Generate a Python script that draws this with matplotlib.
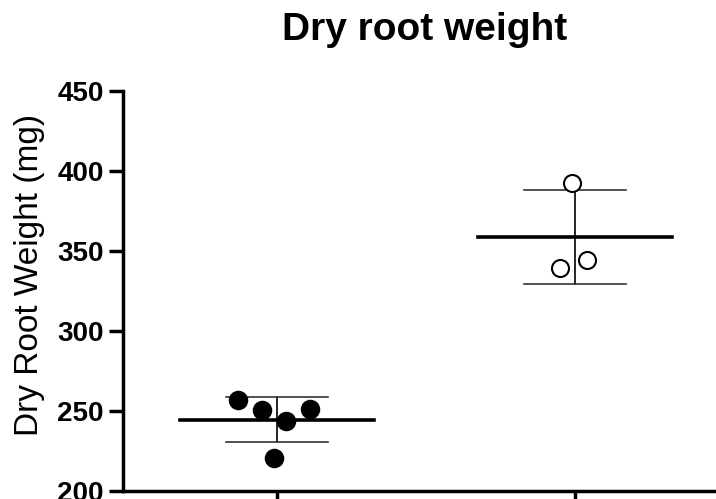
import numpy as np
import matplotlib
matplotlib.use("Agg")
import matplotlib.pyplot as plt

plt.rcParams['font.family'] = ['Liberation Sans', 'DejaVu Sans']

# values
group_pos = [0, 1]
filled_x = [-0.13, -0.05, 0.03, 0.11, -0.01]
filled_y = [256.9, 250.6, 243.8, 251.3, 220.8]
open_x = [0.99, 0.95, 1.04]
open_y = [392.7, 339.2, 344.4]
yticks = [200, 250, 300, 350, 400, 450]

fig = plt.figure(figsize=(7.16, 4.99), dpi=100)
ax = fig.add_axes([123/716, 8/499, (730-123)/716, 400/499])

ax.scatter(filled_x, filled_y, s=170, color='black', zorder=3)
ax.scatter(open_x, open_y, s=150, facecolor='white', edgecolor='black',
           linewidth=1.5, zorder=3)

for pos, vals in zip(group_pos, [filled_y, open_y]):
    m = np.mean(vals)
    sd = np.std(vals, ddof=1)
    ax.plot([pos - 0.325, pos + 0.325], [m, m], color='black', lw=2.6, zorder=2)
    ax.plot([pos, pos], [m - sd, m + sd], color='black', lw=1.2, zorder=1)
    for c in (m - sd, m + sd):
        ax.plot([pos - 0.17, pos + 0.17], [c, c], color='#333333', lw=1.2, zorder=1)

ax.set_xlim(-0.517, 1.52)
ax.set_ylim(200, 450)
ax.set_yticks(yticks)
ax.set_xticks(group_pos)
ax.set_xticklabels([])
for lab in ax.get_yticklabels():
    lab.set_fontweight('bold')
ax.tick_params(axis='both', width=2.5, length=10, labelsize=20, pad=4)
for side in ['top', 'right']:
    ax.spines[side].set_visible(False)
for side in ['left', 'bottom']:
    ax.spines[side].set_linewidth(2.5)

ax.set_ylabel('Dry Root Weight (mg)', fontsize=24)
ax.yaxis.set_label_coords(-0.128, 0.54)
fig.text(425/716, 1 - 30/499, 'Dry root weight', ha='center', va='center',
         fontsize=28, fontweight='bold')

fig.savefig('out.png', dpi=100)
